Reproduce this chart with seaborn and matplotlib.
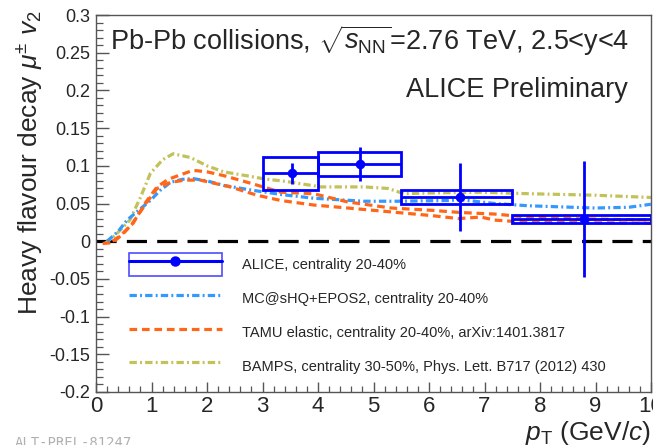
import matplotlib
matplotlib.use("Agg")
import matplotlib.pyplot as plt
from matplotlib.patches import Rectangle
from matplotlib.lines import Line2D
from matplotlib.legend_handler import HandlerTuple
from matplotlib.ticker import MultipleLocator, FuncFormatter
import numpy as np
import pandas as pd
import seaborn as sns

# ALICE measurement: heavy-flavour decay muon v2, centrality 20-40%
alice_pt = [3.54, 4.76, 6.55, 8.79]
alice_v2 = [0.090, 0.102, 0.059, 0.029]
alice_stat = [0.0135, 0.0225, 0.045, 0.077]
alice_sys = [0.022, 0.016, 0.009, 0.0055]
alice_bin_lo = [3.0, 4.0, 5.5, 7.5]
alice_bin_hi = [4.0, 5.5, 7.5, 10.0]

# MC@sHQ+EPOS2, centrality 20-40%
mchq_pt = [0.2, 0.4, 0.56, 0.8, 0.98, 1.15, 1.34, 1.55, 1.75, 2.0, 2.3, 2.78,
           3.33, 3.92, 4.83, 5.44, 6.35, 6.58, 7.18, 7.79, 8.99, 9.6, 10.0]
mchq_v2 = [0.0, 0.013, 0.028, 0.043, 0.054, 0.067, 0.078, 0.082, 0.083, 0.080,
           0.074, 0.068, 0.062, 0.057, 0.053, 0.053, 0.054, 0.055, 0.050, 0.047,
           0.044, 0.045, 0.049]

# TAMU elastic, centrality 20-40% (upper and lower edge of the band)
tamu_hi_pt = [0.3, 0.45, 0.67, 0.9, 1.1, 1.3, 1.52, 1.75, 2.0, 2.3, 2.78, 3.33,
              3.92, 4.54, 5.32, 6.04, 6.58, 7.18, 7.79, 8.5, 10.0]
tamu_hi_v2 = [0.0, 0.008, 0.024, 0.052, 0.072, 0.082, 0.088, 0.094, 0.092,
              0.087, 0.077, 0.065, 0.063, 0.052, 0.044, 0.041, 0.038, 0.036,
              0.032, 0.030, 0.028]
tamu_lo_pt = [0.12, 0.3, 0.49, 0.65, 0.9, 1.1, 1.34, 1.6, 1.88, 2.42, 2.9, 3.33,
              3.92, 4.54, 5.44, 6.04, 6.53, 6.94, 7.18, 7.79, 10.0]
tamu_lo_v2 = [-0.003, -0.002, 0.010, 0.023, 0.050, 0.070, 0.078, 0.081, 0.081,
              0.072, 0.061, 0.054, 0.048, 0.044, 0.038, 0.034, 0.030, 0.032,
              0.028, 0.025, 0.024]

# BAMPS, centrality 30-50%
bamps_pt = [0.16, 0.35, 0.61, 0.8, 0.98, 1.2, 1.39, 1.7, 2.0, 2.3, 2.78, 3.0,
            3.45, 4.05, 4.83, 5.26, 5.55, 6.0, 6.94, 7.79, 8.99, 10.0]
bamps_v2 = [-0.003, 0.008, 0.028, 0.058, 0.090, 0.108, 0.116, 0.111, 0.100,
            0.092, 0.086, 0.083, 0.079, 0.072, 0.072, 0.070, 0.063, 0.064,
            0.065, 0.063, 0.061, 0.058]

x_ticks = list(range(0, 11))
y_ticks = [-0.2, -0.15, -0.1, -0.05, 0.0, 0.05, 0.1, 0.15, 0.2, 0.25, 0.3]

legend_labels = [
    "ALICE, centrality 20-40%",
    "MC@sHQ+EPOS2, centrality 20-40%",
    "TAMU elastic, centrality 20-40%, arXiv:1401.3817",
    "BAMPS, centrality 30-50%, Phys. Lett. B717 (2012) 430",
]

sns.set_theme(style="ticks")
plt.rcParams["font.family"] = ["Liberation Sans", "DejaVu Sans"]
plt.rcParams["mathtext.fontset"] = "custom"
plt.rcParams["mathtext.rm"] = "Liberation Sans"
plt.rcParams["mathtext.it"] = "Liberation Sans:italic"
plt.rcParams["mathtext.bf"] = "Liberation Sans:bold"
plt.rcParams["axes.unicode_minus"] = False

BLUE = "#0000ff"
C_MCHQ = "#3399ff"
C_TAMU = "#ff6619"
C_BAMPS = "#c2c25a"
LW = 2.3
ls_mchq = (0, (2.3, 1.0, 0.6, 1.0))
ls_tamu = (0, (2.4, 1.5))
ls_bamps = (0, (2.3, 1.0, 0.6, 1.0))

fig = plt.figure(figsize=(6.53, 4.45), dpi=100)
ax = fig.add_axes([96 / 653, 53 / 445, 555 / 653, 377 / 445])

# zero line
ax.axhline(0, color="black", lw=2.3, linestyle=(0, (6.3, 3.2)), zorder=1)

# model curves
sns.lineplot(x=bamps_pt, y=bamps_v2, ax=ax, color=C_BAMPS, lw=LW,
             linestyle=ls_bamps, legend=False, zorder=2)
sns.lineplot(x=mchq_pt, y=mchq_v2, ax=ax, color=C_MCHQ, lw=LW,
             linestyle=ls_mchq, legend=False, zorder=3)
sns.lineplot(x=tamu_hi_pt, y=tamu_hi_v2, ax=ax, color=C_TAMU, lw=LW,
             linestyle=ls_tamu, legend=False, zorder=3)
sns.lineplot(x=tamu_lo_pt, y=tamu_lo_v2, ax=ax, color=C_TAMU, lw=LW,
             linestyle=ls_tamu, legend=False, zorder=3)

# ALICE systematic boxes
for lo, hi, v, s in zip(alice_bin_lo, alice_bin_hi, alice_v2, alice_sys):
    ax.add_patch(Rectangle((lo, v - s), hi - lo, 2 * s, facecolor="none",
                           edgecolor=BLUE, lw=2.0, zorder=4))

# ALICE points with statistical errors and bin widths
pt = np.array(alice_pt)
xerr = [pt - np.array(alice_bin_lo), np.array(alice_bin_hi) - pt]
ax.errorbar(alice_pt, alice_v2, yerr=alice_stat, xerr=xerr, fmt="none",
            ecolor=BLUE, elinewidth=2.0, capsize=0, zorder=5)
sns.scatterplot(x=alice_pt, y=alice_v2, ax=ax, color=BLUE, s=40,
                edgecolor=BLUE, zorder=6, legend=False)

ax.set_xlim(0, 10)
ax.set_ylim(-0.2, 0.3)
ax.set_xticks(x_ticks)
ax.set_yticks(y_ticks)
ax.xaxis.set_minor_locator(MultipleLocator(0.2))
ax.yaxis.set_minor_locator(MultipleLocator(0.01))
ax.yaxis.set_major_formatter(FuncFormatter(lambda v, p: f"{v:g}"))
ax.xaxis.set_major_formatter(FuncFormatter(lambda v, p: f"{v:g}"))

for s in ax.spines.values():
    s.set_color("#555555")
    s.set_linewidth(1.0)
ax.tick_params(axis="both", which="both", direction="in", color="#555555",
               top=False, right=False)
ax.tick_params(axis="y", which="major", length=9, width=1.0, labelsize=13, pad=4)
ax.tick_params(axis="y", which="minor", length=5, width=0.9)
ax.tick_params(axis="x", which="major", length=7, width=1.0, labelsize=16, pad=3)
ax.tick_params(axis="x", which="minor", length=4, width=0.9)

ax.set_xlabel(r"$p_{\rm T}$ (GeV/$c$)", fontsize=19, loc="right")
ax.xaxis.set_label_coords(1.0, -0.072)
ax.set_ylabel(r"Heavy flavour decay $\mu^{\pm}$ $v_{2}$", fontsize=19, loc="top")
ax.yaxis.set_label_coords(-0.094, 1.013)

ax.text(0.025, 0.907,
        r"Pb-Pb collisions, $\sqrt{s_{\rm NN}}$=2.76 TeV, 2.5<y<4",
        transform=ax.transAxes, fontsize=19.5, va="baseline", ha="left")
ax.text(0.959, 0.782, "ALICE Preliminary", transform=ax.transAxes,
        fontsize=19.5, va="baseline", ha="right")

# legend
h_alice = (Rectangle((0, 0), 1, 1, facecolor="none", edgecolor="#4d4dff", lw=1.2),
           Line2D([], [], color=BLUE, lw=2.2, marker="o", ms=6.5))
h_mchq = Line2D([], [], color=C_MCHQ, lw=LW, linestyle=ls_mchq)
h_tamu = Line2D([], [], color=C_TAMU, lw=LW, linestyle=ls_tamu)
h_bamps = Line2D([], [], color=C_BAMPS, lw=LW, linestyle=ls_bamps)
ax.legend([h_alice, h_mchq, h_tamu, h_bamps], legend_labels,
          handler_map={tuple: HandlerTuple(ndivide=1, pad=0)},
          loc="upper left", bbox_to_anchor=(0.059, 0.370), frameon=False,
          fontsize=10.5, handlelength=6.4, handleheight=2.15,
          handletextpad=1.4, labelspacing=0.68, borderpad=0, borderaxespad=0)

fig.text(15 / 653, 1 - 436 / 445, "ALT-PREL-81247", family="DejaVu Sans Mono",
         fontsize=10, color="#b0b0b0", va="top", ha="left")

fig.savefig("out.png", dpi=100)
